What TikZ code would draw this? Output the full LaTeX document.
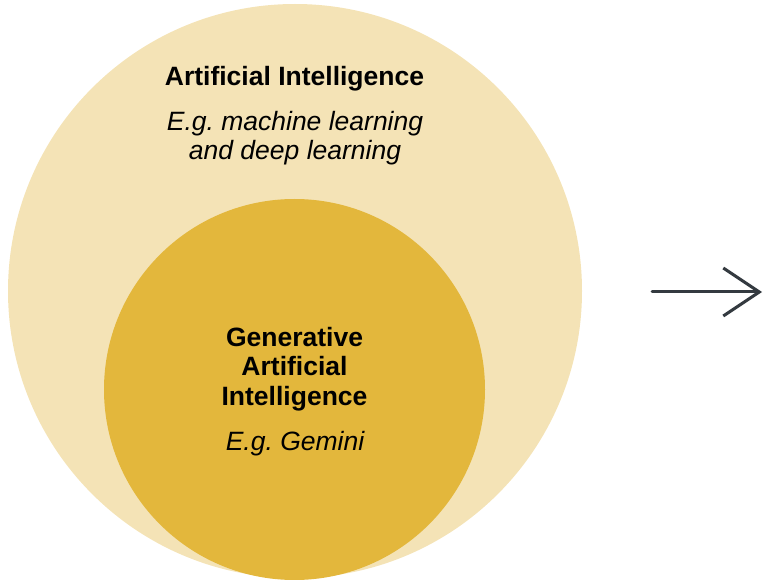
\documentclass[tikz,border=0pt]{standalone}
\usepackage{fontspec}
\setmainfont{Liberation Sans}
\usetikzlibrary{arrows.meta}
\definecolor{aiouter}{RGB}{244,227,182}
\definecolor{aiinner}{RGB}{227,183,60}
\definecolor{arrowgrey}{RGB}{52,58,64}
\frenchspacing

\begin{document}
\begin{tikzpicture}[x=1pt,y=-1pt,>={Straight Barb[length=36pt,width=48pt]},
	txt/.style={inner sep=0pt,align=center,font=\fontsize{26.5}{29.3}\selectfont}]
	\useasboundingbox (0,0) rectangle (764,580);
	% Draw the outer circle (AI)
	\fill[aiouter] (295,291) circle (287);
	% Draw the inner circle (GenAI)
	\fill[aiinner] (294.5,389.5) circle (190.5);
	
	% Labels of the outer circle
	\node[txt,anchor=base] (aititle) at (294.5,85.7) {\bfseries Artificial Intelligence};
	\node[txt,anchor=base] (aiex) at (295,160) {\itshape E.g. machine learning\\\itshape and deep learning};
	
	% Labels of the inner circle
	\node[txt,anchor=base] (gentitle) at (294.5,405.3) {\bfseries Generative\\\bfseries Artificial\\\bfseries Intelligence};
	\node[txt,anchor=base] (genex) at (295,450) {\itshape E.g. Gemini};
	
	% Draw the arrow
	\coordinate (arrowstart) at (652,292);
	\coordinate (arrowend) at (762,292);
	\draw[line width=3pt,arrowgrey,line cap=round,->] (arrowstart) -- (arrowend);
\end{tikzpicture}
\end{document}
